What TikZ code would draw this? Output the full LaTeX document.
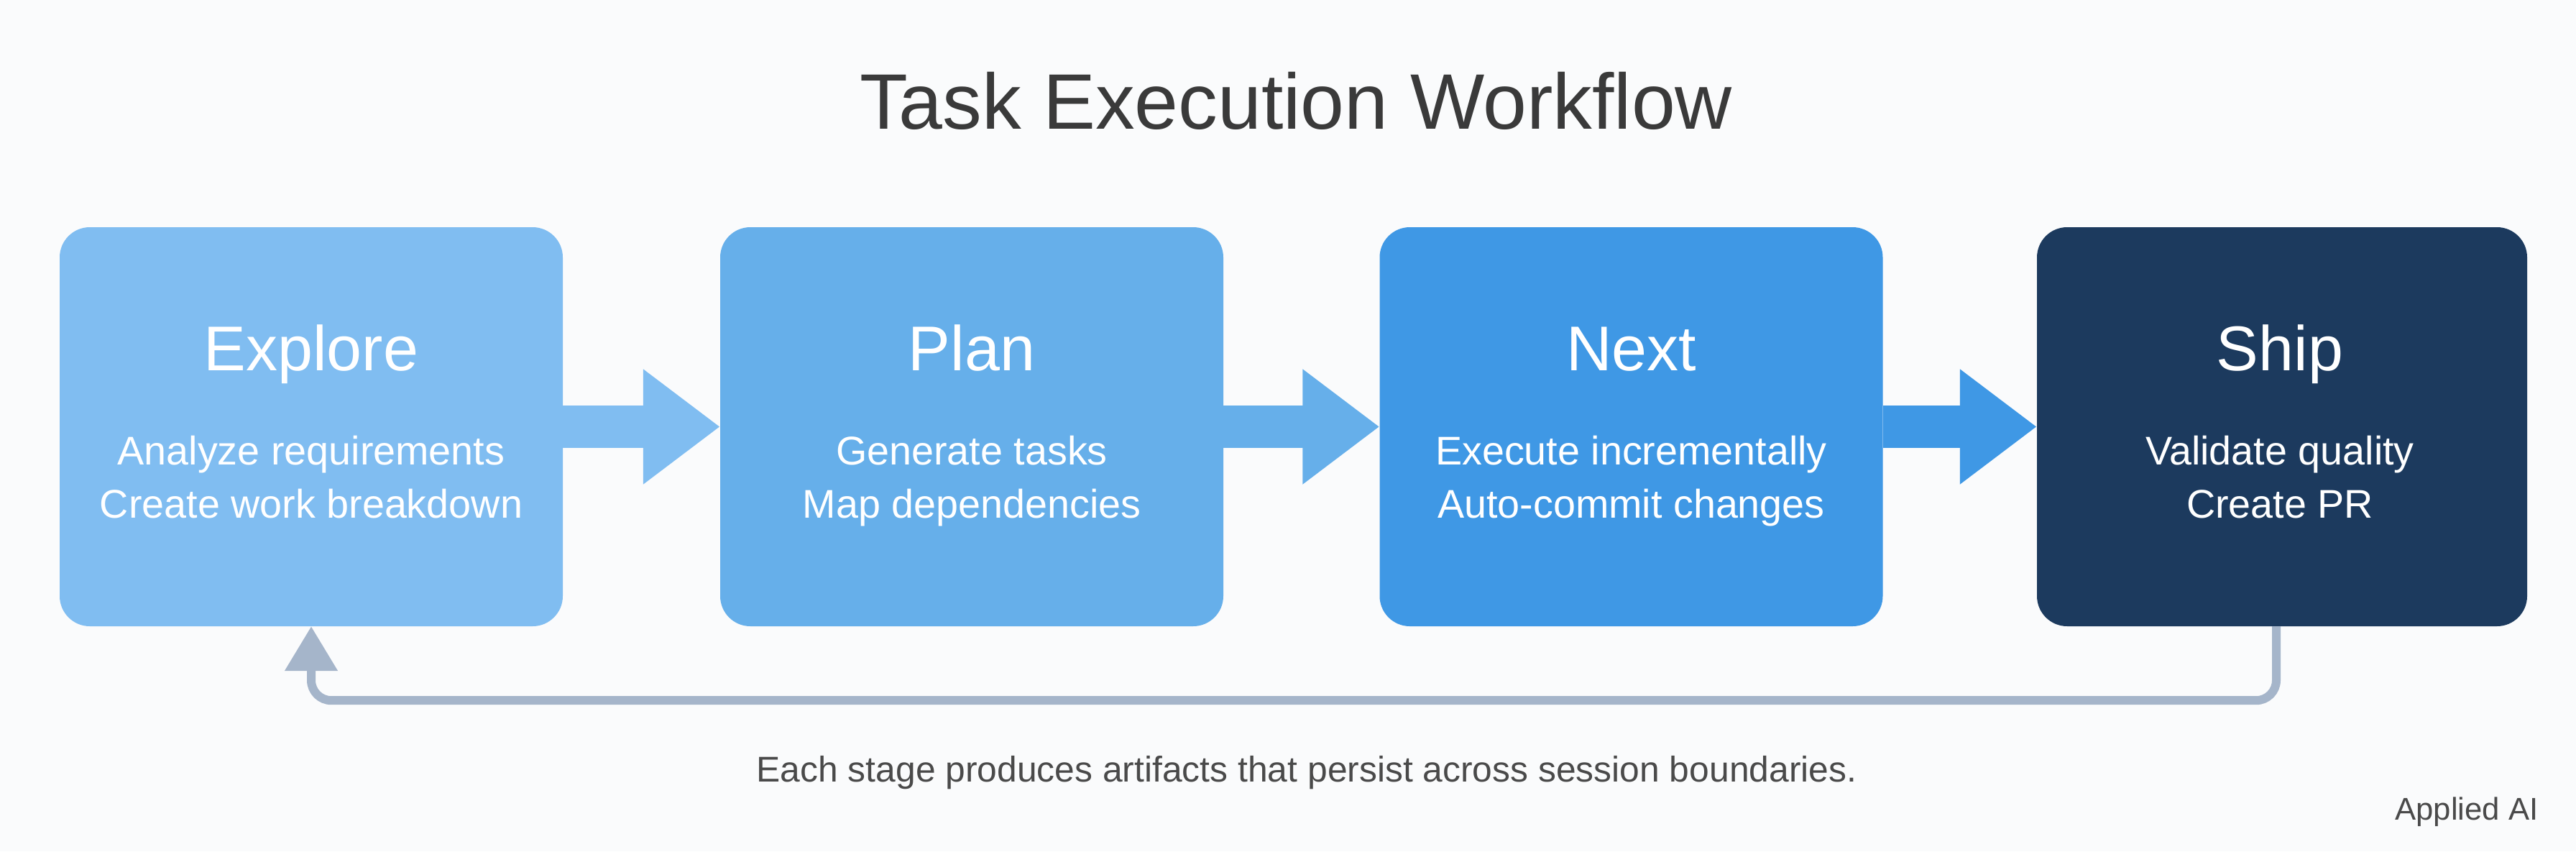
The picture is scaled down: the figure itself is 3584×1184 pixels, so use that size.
\documentclass[tikz,border=0pt]{standalone}
\usepackage{fontspec}
\setmainfont{Liberation Sans}
\usepackage{xcolor}
\usetikzlibrary{arrows.meta}

\definecolor{bgwhite}{HTML}{FAFBFC}
\definecolor{exploreblue}{HTML}{80BDF1}
\definecolor{planblue}{HTML}{66AFEA}
\definecolor{nextblue}{HTML}{3F98E5}
\definecolor{shipnavy}{HTML}{1C3A5E}
\definecolor{loopgray}{HTML}{A5B5CA}
\definecolor{titlegray}{HTML}{3A3A3A}
\definecolor{notegray}{HTML}{4A4A4A}

\begin{document}
\begin{tikzpicture}[x=1pt,y=-1pt,
    stage/.style={rounded corners=42pt, inner sep=0pt, minimum height=555pt},
    stagetitle/.style={anchor=base, text=white, font=\fontsize{88}{100}\selectfont},
    stagetext/.style={anchor=base, text=white, align=center, font=\fontsize{55.7}{74}\selectfont},
    flow/.style={line width=59pt, -{Triangle[length=107pt,width=153pt]}},
    loopback/.style={line width=12pt, draw=loopgray, rounded corners=28pt,
        -{Triangle[length=62pt,width=71pt]}}]

    % Page and background
    \useasboundingbox (0,0) rectangle (3584,1184);
    \fill[bgwhite] (0,0) rectangle (3584,1184);

    % Title
    \node[anchor=base, text=titlegray, font=\fontsize{109.4}{120}\selectfont] (title) at (1803,179) {Task Execution Workflow};

    % The four stages
    \node[stage, fill=exploreblue, minimum width=700pt] (explore) at (433,593.5) {};
    \node[stage, fill=planblue, minimum width=700pt] (plan) at (1352,593.5) {};
    \node[stage, fill=nextblue, minimum width=700pt] (next) at (2269.5,593.5) {};
    \node[stage, fill=shipnavy, minimum width=682pt] (ship) at (3175,593.5) {};

    % Stage names
    \node[stagetitle] (exploretitle) at (433,515) {Explore};
    \node[stagetitle] (plantitle) at (1352,515) {Plan};
    \node[stagetitle] (nexttitle) at (2269.5,515) {Next};
    \node[stagetitle] (shiptitle) at (3172,515) {Ship};

    % Stage details (base sits on the last line)
    \node[stagetext] (exploretext) at (433,720) {Analyze requirements\\Create work breakdown};
    \node[stagetext] (plantext) at (1352,720) {Generate tasks\\Map dependencies};
    \node[stagetext] (nexttext) at (2269.5,720) {Execute incrementally\\Auto-commit changes};
    \node[stagetext] (shiptext) at (3172,720) {Validate quality\\Create PR};

    % Block arrows between stages
    \draw[flow, draw=exploreblue] (explore.east) -- (plan.west);
    \draw[flow, draw=planblue] (plan.east) -- (next.west);
    \draw[flow, draw=nextblue] (next.east) -- (ship.west);

    % Feedback loop back to the start
    \draw[loopback] ([xshift=-8pt]ship.south) -- ++(0,103) -| (explore.south);

    % Footnote and brand
    \node[anchor=base, text=notegray, font=\fontsize{49.8}{60}\selectfont] (note) at (1818,1087) {Each stage produces artifacts that persist across session boundaries.};
    \node[anchor=base east, text=notegray, font=\fontsize{43.7}{52}\selectfont] (brand) at (3535,1140) {Applied AI};
\end{tikzpicture}
\end{document}
